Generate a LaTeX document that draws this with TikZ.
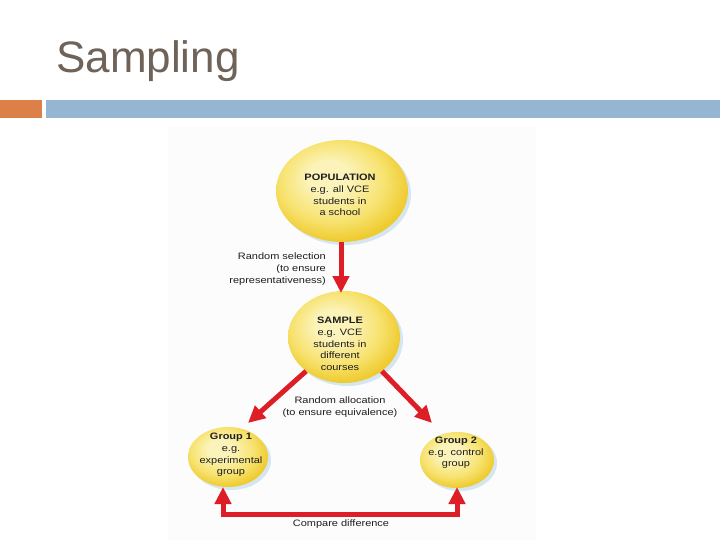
\documentclass[tikz,border=0pt]{standalone}
\usepackage{fontspec}
\setmainfont{Liberation Sans}
\newfontfamily\lblfont[FakeStretch=1.18]{Liberation Sans}
\usetikzlibrary{arrows.meta,shapes.geometric}
\definecolor{titlegray}{RGB}{111,98,89}
\definecolor{barorange}{RGB}{221,128,71}
\definecolor{barblue}{RGB}{148,182,210}
\definecolor{arrred}{RGB}{222,30,38}
\definecolor{ylight}{RGB}{251,243,185}
\definecolor{ymid}{RGB}{247,226,110}
\definecolor{ydark}{RGB}{239,203,48}
\definecolor{shadowblue}{RGB}{212,230,242}
\definecolor{bgbox}{RGB}{252,252,252}
\definecolor{txt}{RGB}{30,30,30}
\pgfdeclareradialshading{yball}{\pgfpoint{-6bp}{8bp}}{color(0bp)=(ylight); color(8bp)=(ylight); color(20bp)=(ymid); color(28bp)=(ydark); color(50bp)=(ydark)}
\tikzset{
  blob/.style={ellipse, inner sep=0pt, shading=yball, draw=none},
  blobshadow/.style={ellipse, inner sep=0pt, fill=shadowblue, draw=none},
  lbl/.style={font=\lblfont\fontsize{9.3}{11.7}\selectfont, text=txt, align=center, inner sep=0pt},
  arr/.style={draw=arrred, line width=5pt, -{Triangle[length=17pt,width=16pt]}},
  arrboth/.style={draw=arrred, line width=5pt, line join=miter, {Triangle[length=17pt,width=16pt]}-{Triangle[length=17pt,width=16pt]}}
}
\begin{document}
\begin{tikzpicture}[x=1pt,y=-1pt]
\useasboundingbox (0,0) rectangle (720,540);
\fill[white] (0,0) rectangle (720,540);
% title and bars
\node[anchor=base west, inner sep=0pt, text=titlegray, font=\fontsize{44}{50}\selectfont] (title) at (56,73) {Sampling};
\fill[barorange] (0,100) rectangle (42,118);
\fill[barblue] (46,100) rectangle (720,118);
% faint picture background
\fill[bgbox] (168,127) rectangle (536,540);
% shadows
\node[blobshadow, minimum width=132pt, minimum height=102pt] (pops) at (345,194) {};
\node[blobshadow, minimum width=112pt, minimum height=92pt] (sams) at (347,340) {};
\node[blobshadow, minimum width=80pt, minimum height=60pt] (g1s) at (231,460) {};
\node[blobshadow, minimum width=74pt, minimum height=56pt] (g2s) at (460,463) {};
% circles
\node[blob, minimum width=132pt, minimum height=102pt] (pop) at (342,191) {};
\node[blob, minimum width=112pt, minimum height=92pt] (sam) at (344,337) {};
\node[blob, minimum width=80pt, minimum height=60pt] (g1) at (228,457) {};
\node[blob, minimum width=74pt, minimum height=56pt] (g2) at (457,460) {};
% texts in circles
\node[lbl] (poptxt) at (340,195) {\textbf{POPULATION}\\e.g. all VCE\\students in\\a school};
\node[lbl] (samtxt) at (340,344) {\textbf{SAMPLE}\\e.g. VCE\\students in\\different\\courses};
\node[lbl] (g1txt) at (231,455) {\textbf{Group 1}\\e.g.\\experimental\\group};
\node[lbl] (g2txt) at (456,453) {\textbf{Group 2}\\e.g. control\\group};
% free labels
\node[lbl, align=right, anchor=east] (sel) at (326,269) {Random selection\\(to ensure\\representativeness)};
\node[lbl] (alloc) at (340,407) {Random allocation\\(to ensure equivalence)};
\node[lbl] (comp) at (341,524) {Compare difference};
% connectors
\coordinate (popbot) at (341,242);
\coordinate (samtop) at (341,293);
\draw[arr] (pop.south -| popbot) -- (samtop);
\coordinate (tip1) at (248,423);
\coordinate (tip2) at (432,423);
\draw[arr] (sam.222) -- (tip1);
\draw[arr] (sam.318) -- (tip2);
\coordinate (b1) at (223,514);
\coordinate (b2) at (457,514);
\coordinate (t1) at (223,487);
\coordinate (t2) at (457,487);
\draw[arrboth] (t1) -- (b1) -- (b2) -- (t2);
\end{tikzpicture}
\end{document}
